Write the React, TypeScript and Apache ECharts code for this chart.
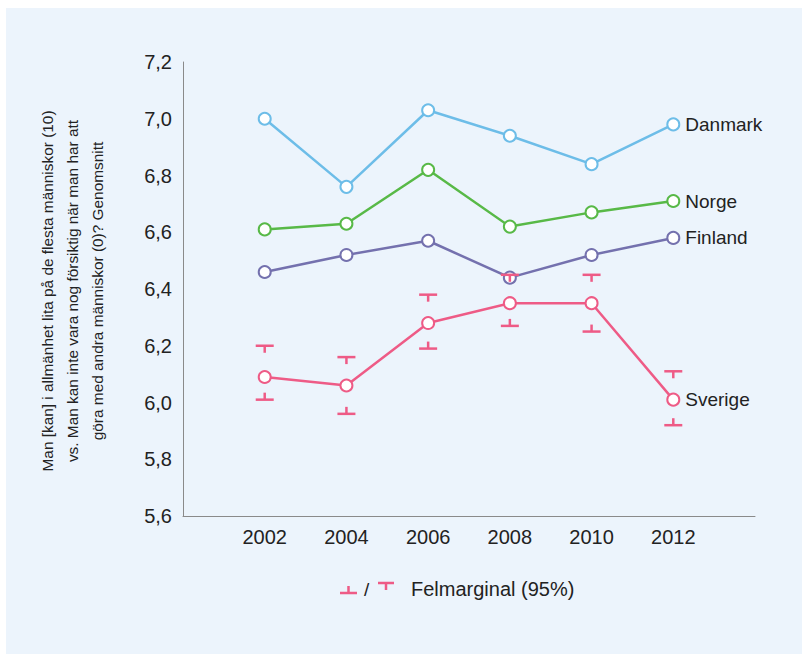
import React, { useEffect, useRef } from "react";
import * as echarts from "echarts";

const years = [2002, 2004, 2006, 2008, 2010, 2012];
const danmark = [7.0, 6.76, 7.03, 6.94, 6.84, 6.98];
const norge = [6.61, 6.63, 6.82, 6.62, 6.67, 6.71];
const finland = [6.46, 6.52, 6.57, 6.44, 6.52, 6.58];
const sverige = [6.09, 6.06, 6.28, 6.35, 6.35, 6.01];
const sverigeLow = [6.01, 5.96, 6.19, 6.27, 6.25, 5.92];
const sverigeHigh = [6.2, 6.16, 6.38, 6.45, 6.45, 6.11];
const countryNames = ["Danmark", "Norge", "Finland", "Sverige"];
const yAxisTitle =
  "Man [kan] i allmänhet lita på de flesta människor (10)\nvs. Man kan inte vara nog försiktig när man har att\ngöra med andra människor (0)? Genomsnitt";
const legendText = "Felmarginal (95%)";

const FONT = "'Liberation Sans', Arial, Helvetica, sans-serif";
const TEXT = "#222222";
const PINK = "#EE5B86";
const COLORS = ["#6DBDE8", "#58B947", "#7471AE", PINK];

export default function App() {
  const ref = useRef<HTMLDivElement>(null);

  useEffect(() => {
    if (!ref.current) return;
    const chart = echarts.init(ref.current, null, { renderer: "svg" });
    const seriesValues = [danmark, norge, finland, sverige];

    const lineSeries = seriesValues.map((vals, i) => ({
      type: "line",
      name: countryNames[i],
      data: years.map((y, j) => [y, vals[j]]),
      symbol: "circle",
      symbolSize: 12,
      showAllSymbol: true,
      z: 3,
      lineStyle: { color: COLORS[i], width: 2.5 },
      itemStyle: { color: "#ffffff", borderColor: COLORS[i], borderWidth: 2 },
      endLabel: {
        show: true,
        formatter: countryNames[i],
        distance: 12,
        color: TEXT,
        fontSize: 19,
        fontFamily: FONT,
      },
      emphasis: { disabled: true },
    }));

    const errorSeries = {
      type: "custom",
      z: 5,
      data: years.map((y, j) => [y, sverigeLow[j], sverigeHigh[j]]),
      renderItem: (params: any, api: any) => {
        const x = api.value(0);
        const lo = api.coord([x, api.value(1)]);
        const hi = api.coord([x, api.value(2)]);
        const hw = 9;
        const st = 7;
        const style = { stroke: PINK, lineWidth: 2.5 };
        return {
          type: "group",
          children: [
            { type: "line", shape: { x1: hi[0] - hw, y1: hi[1], x2: hi[0] + hw, y2: hi[1] }, style },
            { type: "line", shape: { x1: hi[0], y1: hi[1], x2: hi[0], y2: hi[1] + st }, style },
            { type: "line", shape: { x1: lo[0] - hw, y1: lo[1], x2: lo[0] + hw, y2: lo[1] }, style },
            { type: "line", shape: { x1: lo[0], y1: lo[1] - st, x2: lo[0], y2: lo[1] }, style },
          ],
        };
      },
    };

    const lgStyle = { stroke: PINK, lineWidth: 2.5 };
    chart.setOption({
      animation: false,
      backgroundColor: "#ECF4FC",
      grid: { left: 177, top: 54, right: 47, bottom: 138 },
      xAxis: {
        type: "value",
        min: 2000,
        max: 2014,
        interval: 2,
        axisLine: { show: true, lineStyle: { color: "#8A8A8A", width: 1 } },
        axisTick: { show: false },
        splitLine: { show: false },
        axisLabel: {
          color: TEXT,
          fontSize: 20,
          fontFamily: FONT,
          margin: 11,
          formatter: (v: number) => (v === 2000 || v === 2014 ? "" : String(v)),
        },
      },
      yAxis: {
        type: "value",
        min: 5.6,
        max: 7.2,
        interval: 0.2,
        axisLine: { show: true, lineStyle: { color: "#8A8A8A", width: 1 } },
        axisTick: { show: false },
        splitLine: { show: false },
        axisLabel: {
          color: TEXT,
          fontSize: 20,
          fontFamily: FONT,
          margin: 11,
          formatter: (v: number) => v.toFixed(1).replace(".", ","),
        },
      },
      graphic: [
        {
          type: "text",
          x: 66,
          y: 283,
          rotation: Math.PI / 2,
          style: {
            text: yAxisTitle,
            fill: TEXT,
            font: `15.4px ${FONT}`,
            lineHeight: 25,
            align: "center",
            verticalAlign: "middle",
          },
        },
        { type: "line", shape: { x1: 334, y1: 585, x2: 351, y2: 585 }, style: lgStyle },
        { type: "line", shape: { x1: 342.5, y1: 578, x2: 342.5, y2: 585 }, style: lgStyle },
        {
          type: "text",
          x: 358,
          y: 581,
          style: { text: "/", fill: TEXT, font: `19px ${FONT}`, verticalAlign: "middle" },
        },
        { type: "line", shape: { x1: 372, y1: 575, x2: 388, y2: 575 }, style: lgStyle },
        { type: "line", shape: { x1: 380, y1: 575, x2: 380, y2: 582 }, style: lgStyle },
        {
          type: "text",
          x: 405,
          y: 581,
          style: { text: legendText, fill: TEXT, font: `20px ${FONT}`, verticalAlign: "middle" },
        },
      ],
      series: [...lineSeries, errorSeries],
    });
    return () => chart.dispose();
  }, []);

  return (
    <div
      ref={ref}
      style={{ position: "absolute", left: 6, top: 8, width: 796, height: 646 }}
    />
  );
}
